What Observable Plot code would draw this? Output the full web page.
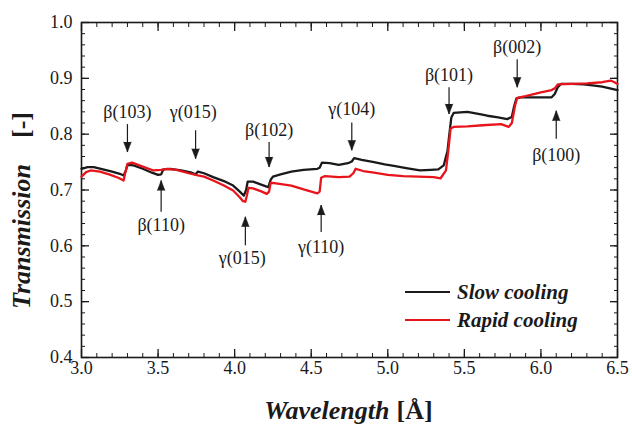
<!DOCTYPE html>
<html><head><meta charset="utf-8">
<script src="https://cdn.jsdelivr.net/npm/d3@7"></script>
<script src="https://cdn.jsdelivr.net/npm/@observablehq/plot@0.6"></script>
<style>
  html, body { margin: 0; padding: 0; background: #fff; }
  body, body * { font-family: "Liberation Serif", "Tinos", serif; }
</style>
</head><body>
<div id="wrap" style="position:relative;width:632px;height:427px"></div>
<script>
// ---- data ----
const seriesNames = ["Slow cooling", "Rapid cooling"];
const seriesColors = ["#1a1a1a", "#e8141c"];

const slowWavelength = [3.00,3.04,3.08,3.14,3.20,3.25,3.275,3.29,3.30,3.34,3.40,3.46,3.50,3.52,3.535,3.58,3.65,3.72,3.745,3.76,3.80,3.86,3.93,3.99,4.03,4.06,4.075,4.085,4.12,4.16,4.20,4.22,4.235,4.25,4.30,4.37,4.45,4.54,4.555,4.57,4.62,4.68,4.74,4.765,4.78,4.83,4.91,4.98,5.04,5.12,5.21,5.28,5.33,5.365,5.39,5.40,5.415,5.43,5.52,5.60,5.65,5.72,5.78,5.81,5.825,5.84,5.87,5.95,6.02,6.07,6.09,6.11,6.13,6.20,6.28,6.35,6.40,6.45,6.50];
const slowTransmission = [0.738,0.741,0.741,0.737,0.733,0.729,0.726,0.735,0.745,0.744,0.738,0.731,0.727,0.728,0.737,0.738,0.735,0.731,0.728,0.733,0.730,0.723,0.716,0.708,0.698,0.690,0.700,0.715,0.715,0.711,0.707,0.705,0.718,0.724,0.728,0.733,0.736,0.738,0.740,0.749,0.748,0.745,0.748,0.751,0.757,0.754,0.750,0.746,0.743,0.739,0.735,0.736,0.737,0.744,0.770,0.795,0.830,0.838,0.840,0.836,0.833,0.830,0.827,0.831,0.850,0.864,0.866,0.866,0.866,0.866,0.872,0.884,0.890,0.890,0.889,0.887,0.885,0.882,0.879];

const rapidWavelength = [3.00,3.03,3.06,3.12,3.18,3.24,3.275,3.285,3.30,3.33,3.40,3.47,3.52,3.56,3.62,3.70,3.76,3.80,3.86,3.93,3.99,4.03,4.055,4.07,4.08,4.09,4.12,4.17,4.21,4.225,4.235,4.27,4.37,4.45,4.54,4.555,4.565,4.59,4.68,4.75,4.775,4.79,4.84,4.91,5.00,5.10,5.20,5.30,5.345,5.38,5.395,5.41,5.43,5.52,5.62,5.74,5.79,5.81,5.83,5.845,5.90,5.96,6.00,6.07,6.09,6.11,6.20,6.30,6.40,6.455,6.48,6.50];
const rapidTransmission = [0.724,0.732,0.735,0.733,0.728,0.722,0.717,0.730,0.747,0.749,0.742,0.735,0.736,0.738,0.736,0.730,0.726,0.724,0.717,0.708,0.699,0.688,0.680,0.679,0.690,0.704,0.703,0.698,0.693,0.697,0.713,0.712,0.708,0.701,0.694,0.697,0.722,0.725,0.723,0.724,0.730,0.738,0.734,0.731,0.727,0.725,0.724,0.723,0.721,0.735,0.770,0.810,0.813,0.814,0.816,0.818,0.813,0.820,0.850,0.865,0.868,0.872,0.875,0.879,0.882,0.889,0.890,0.891,0.893,0.896,0.893,0.890];

// peak annotations
const annLabels = ["β(103)","γ(015)","β(102)","γ(104)","β(101)","β(002)","β(100)","β(110)","γ(015)","γ(110)"];
const annArrowX = [3.30,3.745,4.225,4.765,5.40,5.845,6.10,3.52,4.07,4.565];
const annTextX  = [3.30,3.73,4.225,4.765,5.40,5.845,6.10,3.52,4.05,4.565];
const annTextY  = [0.839,0.839,0.807,0.845,0.905,0.955,0.762,0.637,0.577,0.598];
const annTail   = [0.818,0.807,0.786,0.821,0.884,0.934,0.792,0.661,0.601,0.625];
const annTip    = [0.768,0.756,0.741,0.771,0.836,0.884,0.842,0.717,0.652,0.673];

// axis ticks
const xTicks = [3.0,3.5,4.0,4.5,5.0,5.5,6.0,6.5];
const xMinorTicks = d3.range(30, 66, 1).map(v => v / 10);
const yTicks = [0.4,0.5,0.6,0.7,0.8,0.9,1.0];
const yMinorTicks = d3.range(20, 51, 1).map(v => v / 50);

// ---- tables ----
const slow = slowWavelength.map((w, i) => ({w, t: slowTransmission[i]}));
const rapid = rapidWavelength.map((w, i) => ({w, t: rapidTransmission[i]}));
const ann = annLabels.map((label, i) => ({label, x: annArrowX[i], tx: annTextX[i], ty: annTextY[i], tail: annTail[i], tip: annTip[i]}));

const ink = "#1a1a1a";
const serif = "'Liberation Serif', 'Tinos', serif";
const blank = () => "";

const chart = Plot.plot({
  width: 632, height: 427,
  marginLeft: 81, marginRight: 15, marginTop: 22, marginBottom: 70,
  x: {domain: [3, 6.5]},
  y: {domain: [0.4, 1.0]},
  style: {fontFamily: serif, fontSize: "18px", color: ink, background: "white"},
  marks: [
    Plot.axisX(xMinorTicks, {anchor: "bottom", tickSize: -4, tickFormat: blank, label: null}),
    Plot.axisX(xMinorTicks, {anchor: "top", tickSize: -4, tickFormat: blank, label: null}),
    Plot.axisY(yMinorTicks, {anchor: "left", tickSize: -4, tickFormat: blank, label: null}),
    Plot.axisY(yMinorTicks, {anchor: "right", tickSize: -4, tickFormat: blank, label: null}),
    Plot.axisX(xTicks, {anchor: "bottom", tickSize: -8, tickFormat: blank, label: null, strokeWidth: 1.3}),
    Plot.axisX(xTicks, {anchor: "top", tickSize: -8, tickFormat: blank, label: null, strokeWidth: 1.3}),
    Plot.axisY(yTicks, {anchor: "left", tickSize: -8, tickFormat: blank, label: null, strokeWidth: 1.3}),
    Plot.axisY(yTicks, {anchor: "right", tickSize: -8, tickFormat: blank, label: null, strokeWidth: 1.3}),
    Plot.axisX(xTicks, {anchor: "bottom", tickSize: 0, tickPadding: 4, tickFormat: d3.format(".1f"), label: null, fontSize: 18, fontFamily: serif}),
    Plot.axisY(yTicks, {anchor: "left", tickSize: 0, tickPadding: 9, tickFormat: d3.format(".1f"), label: null, fontSize: 18, fontFamily: serif}),
    Plot.frame({stroke: ink, strokeWidth: 1.6}),
    Plot.line(slow, {x: "w", y: "t", stroke: seriesColors[0], strokeWidth: 2.3}),
    Plot.line(rapid, {x: "w", y: "t", stroke: seriesColors[1], strokeWidth: 2.3}),
    Plot.link(ann, {x1: "x", x2: "x", y1: "tail", y2: "tip", stroke: ink, strokeWidth: 1.2}),
    Plot.vector(ann, {x: "x", y: "tip", anchor: "end", shape: "spike", length: 10, r: 3.8,
      rotate: d => d.tip < d.tail ? 180 : 0, fill: ink, stroke: ink, strokeWidth: 0.5}),
    Plot.text(ann, {x: "tx", y: "ty", text: "label", fontSize: 18, fontFamily: serif, fill: ink, lineAnchor: "middle"}),
    Plot.text(["Wavelength"], {frameAnchor: "bottom", text: d => d, textAnchor: "end", dx: 40, dy: 53,
      lineAnchor: "middle", fontSize: 26, fontFamily: serif, fontWeight: "bold", fontStyle: "italic", fill: ink}),
    Plot.text(["[Å]"], {frameAnchor: "bottom", text: d => d, textAnchor: "start", dx: 47, dy: 53,
      lineAnchor: "middle", fontSize: 26, fontFamily: serif, fontWeight: "bold", fill: ink}),
    Plot.text(["Transmission"], {frameAnchor: "left", text: d => d, textAnchor: "start", rotate: -90, dx: -60, dy: 119,
      lineAnchor: "middle", fontSize: 26, fontFamily: serif, fontWeight: "bold", fontStyle: "italic", fill: ink}),
    Plot.text(["[-]"], {frameAnchor: "left", text: d => d, textAnchor: "start", rotate: -90, dx: -60, dy: -52,
      lineAnchor: "middle", fontSize: 26, fontFamily: serif, fontWeight: "bold", fill: ink})
  ]
});

const wrap = document.getElementById("wrap");
wrap.appendChild(chart);
const legend = document.createElement("div");
legend.style.cssText = "position:absolute;left:405px;top:278px;font-weight:bold;font-style:italic;font-size:21px;color:#1a1a1a;line-height:28px";
seriesNames.forEach((name, i) => {
  const row = document.createElement("div");
  row.style.cssText = "display:flex;align-items:center;white-space:nowrap";
  const sw = document.createElement("span");
  sw.style.cssText = "display:inline-block;width:45px;height:0;border-top:2.5px solid " + seriesColors[i] + ";margin-right:7px";
  const label = document.createElement("span");
  label.textContent = name;
  row.appendChild(sw);
  row.appendChild(label);
  legend.appendChild(row);
});
wrap.appendChild(legend);
</script>
</body></html>
